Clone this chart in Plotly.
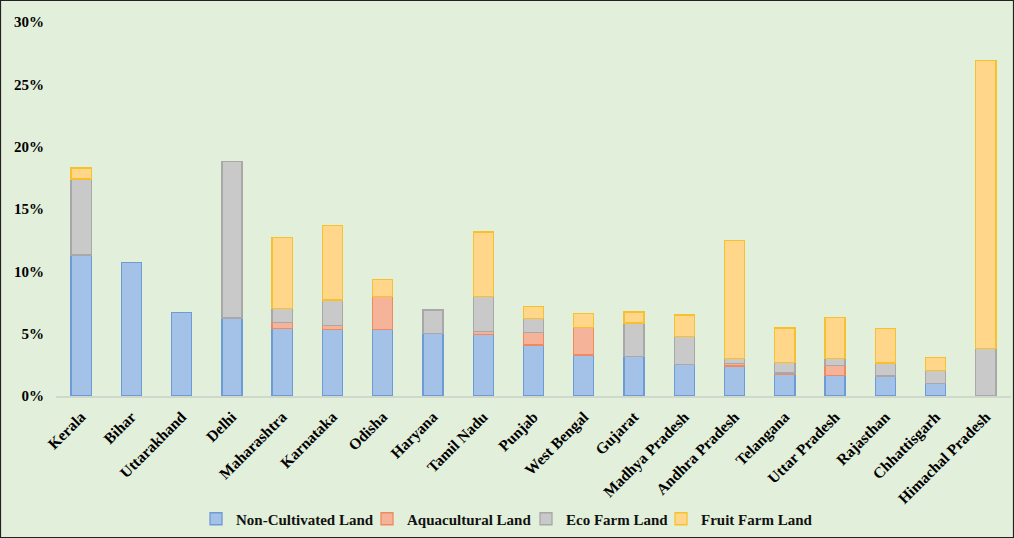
import plotly.graph_objects as go

states = ["Kerala", "Bihar", "Uttarakhand", "Delhi", "Maharashtra", "Karnataka", "Odisha",
          "Haryana", "Tamil Nadu", "Punjab", "West Bengal", "Gujarat", "Madhya Pradesh",
          "Andhra Pradesh", "Telangana", "Uttar Pradesh", "Rajasthan", "Chhattisgarh",
          "Himachal Pradesh"]
non_cultivated = [11.3, 10.7, 6.7, 6.25, 5.4, 5.35, 5.35, 5.0, 4.95, 4.1, 3.3, 3.15, 2.55,
                  2.4, 1.7, 1.65, 1.6, 1.0, None]
aquacultural = [None, None, None, None, 0.5, 0.3, 2.65, None, 0.25, 1.0, 2.2, None, None,
                0.2, 0.15, 0.8, None, None, None]
eco_farm = [6.1, None, None, 12.55, 1.1, 2.05, None, 1.9, 2.8, 1.1, None, 2.7, 2.2, 0.4,
            0.85, 0.55, 1.05, 1.05, 3.8]
fruit_farm = [0.9, None, None, None, 5.7, 6.0, 1.35, None, 5.15, 1.0, 1.1, 0.9, 1.75, 9.5,
              2.75, 3.3, 2.75, 1.05, 23.1]

series = [
    ("Non-Cultivated Land", non_cultivated, "#A4C2E8", "#6C9BD6"),
    ("Aquacultural Land", aquacultural, "#F5B49A", "#EE8A5E"),
    ("Eco Farm Land", eco_farm, "#C9C9C9", "#A8A8A8"),
    ("Fruit Farm Land", fruit_farm, "#FFD68A", "#F7C12E"),
]

font_family = "Liberation Serif"
PLOT_L, PLOT_W, PLOT_B, PLOT_H = 56, 955, 396, 374
legend_text_starts = [236, 407, 566, 701]

fig = go.Figure()
legend_layout = {}
for i, (name, vals, fill, line) in enumerate(series):
    lg = "legend" if i == 0 else f"legend{i + 1}"
    fig.add_trace(go.Bar(
        x=states, y=vals, name=name, legend=lg,
        marker=dict(color=fill, line=dict(color=line, width=1.3)),
    ))
    legend_layout[lg] = dict(
        orientation="h", x=(legend_text_starts[i] - 40 - PLOT_L) / PLOT_W, xanchor="left",
        y=(PLOT_B - 519) / PLOT_H, yanchor="middle",
        font=dict(family=font_family, size=15, weight="bold", color="#111111"),
        bgcolor="rgba(0,0,0,0)", itemwidth=30,
    )

fig.update_layout(
    barmode="stack",
    bargap=0.6,
    width=1014, height=538,
    paper_bgcolor="#E2EFDA",
    plot_bgcolor="#E2EFDA",
    margin=dict(l=PLOT_L, r=3, t=22, b=142),
    font=dict(family=font_family, color="#000000"),
    showlegend=True,
    xaxis=dict(tickangle=-45, tickfont=dict(family=font_family, size=15.5, weight="bold"),
               showline=True, linecolor="#D0D8CC", linewidth=1.5, ticks="",
               showgrid=False, automargin=False, ticklabelstandoff=4),
    yaxis=dict(range=[0, 30], dtick=5, ticksuffix="%", showgrid=False, zeroline=False,
               tickfont=dict(family=font_family, size=15, weight="bold"), showline=False,
               automargin=False, ticklabelstandoff=11),
    **legend_layout,
)

fig.add_shape(type="rect", xref="paper", yref="paper",
              x0=-55.5 / PLOT_W, x1=(1013.5 - PLOT_L) / PLOT_W,
              y0=(PLOT_B - 537.5) / PLOT_H, y1=(PLOT_B - 0.5) / PLOT_H,
              line=dict(color="#222222", width=1.2), fillcolor="rgba(0,0,0,0)", layer="above")

fig.write_html("out.html", config={"displayModeBar": False},
               post_script="document.body.style.margin='0px';")
